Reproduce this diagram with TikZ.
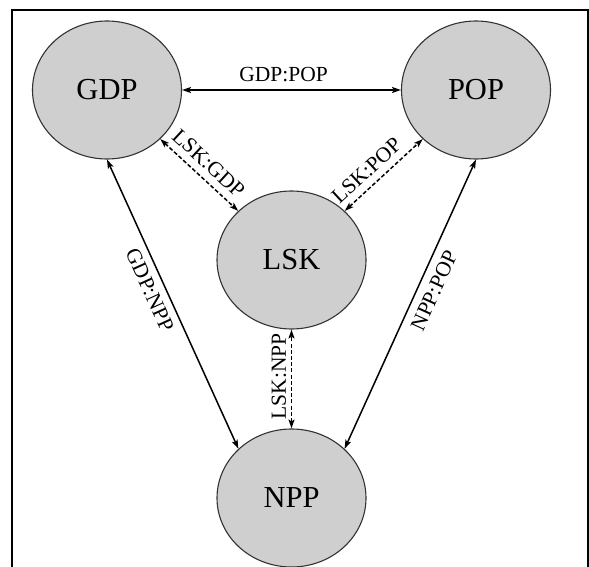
\documentclass[tikz,border=0pt]{standalone}
\usepackage{fontspec}
\setmainfont{Liberation Serif}
\usetikzlibrary{arrows.meta,shapes.geometric}
\begin{document}
\begin{tikzpicture}[x=1pt,y=-1pt,
  var/.style={ellipse, draw=black!80, line width=1.1pt, fill=gray!38,
    minimum width=149pt, minimum height=138pt, inner sep=0pt,
    font=\fontsize{30.5}{36}\selectfont},
  rel/.style={line width=1.5pt,
    {Stealth[length=9pt,width=6pt,inset=2pt]}-{Stealth[length=9pt,width=6pt,inset=2pt]}},
  dsh/.style={rel, dash pattern=on 4pt off 2.2pt},
  lab/.style={font=\fontsize{21.5}{24}\selectfont, inner sep=7pt, sloped}
]
\useasboundingbox (0,0) rectangle (589,567);
\fill[white] (0,0) rectangle (589,567);
\draw[line width=2.2pt] (11.7,572) -- (11.7,10) -- (587.8,10) -- (587.8,572);

\node[var] (gdp) at (107,90) {GDP};
\node[var] (pop) at (476,90) {POP};
\node[var] (lsk) at (291.5,260) {LSK};
\node[var] (npp) at (291.5,498) {NPP};

\draw[rel] (gdp) -- node[lab, above, pos=0.464] {GDP:POP} (pop);
\draw[dsh] (gdp) -- node[lab, above, pos=0.49] {LSK:GDP} (lsk);
\draw[dsh] (lsk) -- node[lab, above, pos=0.41] {LSK:POP} (pop);
\draw[dsh] (npp) -- node[lab, above, pos=0.525, inner sep=4.5pt] {LSK:NPP} (lsk);
\draw[rel] (gdp.south) -- node[lab, below, pos=0.43] {GDP:NPP} (npp.north west);
\draw[rel] (npp.north east) -- node[lab, below, pos=0.57, inner sep=8pt] {NPP:POP} (pop.south);
\end{tikzpicture}
\end{document}
